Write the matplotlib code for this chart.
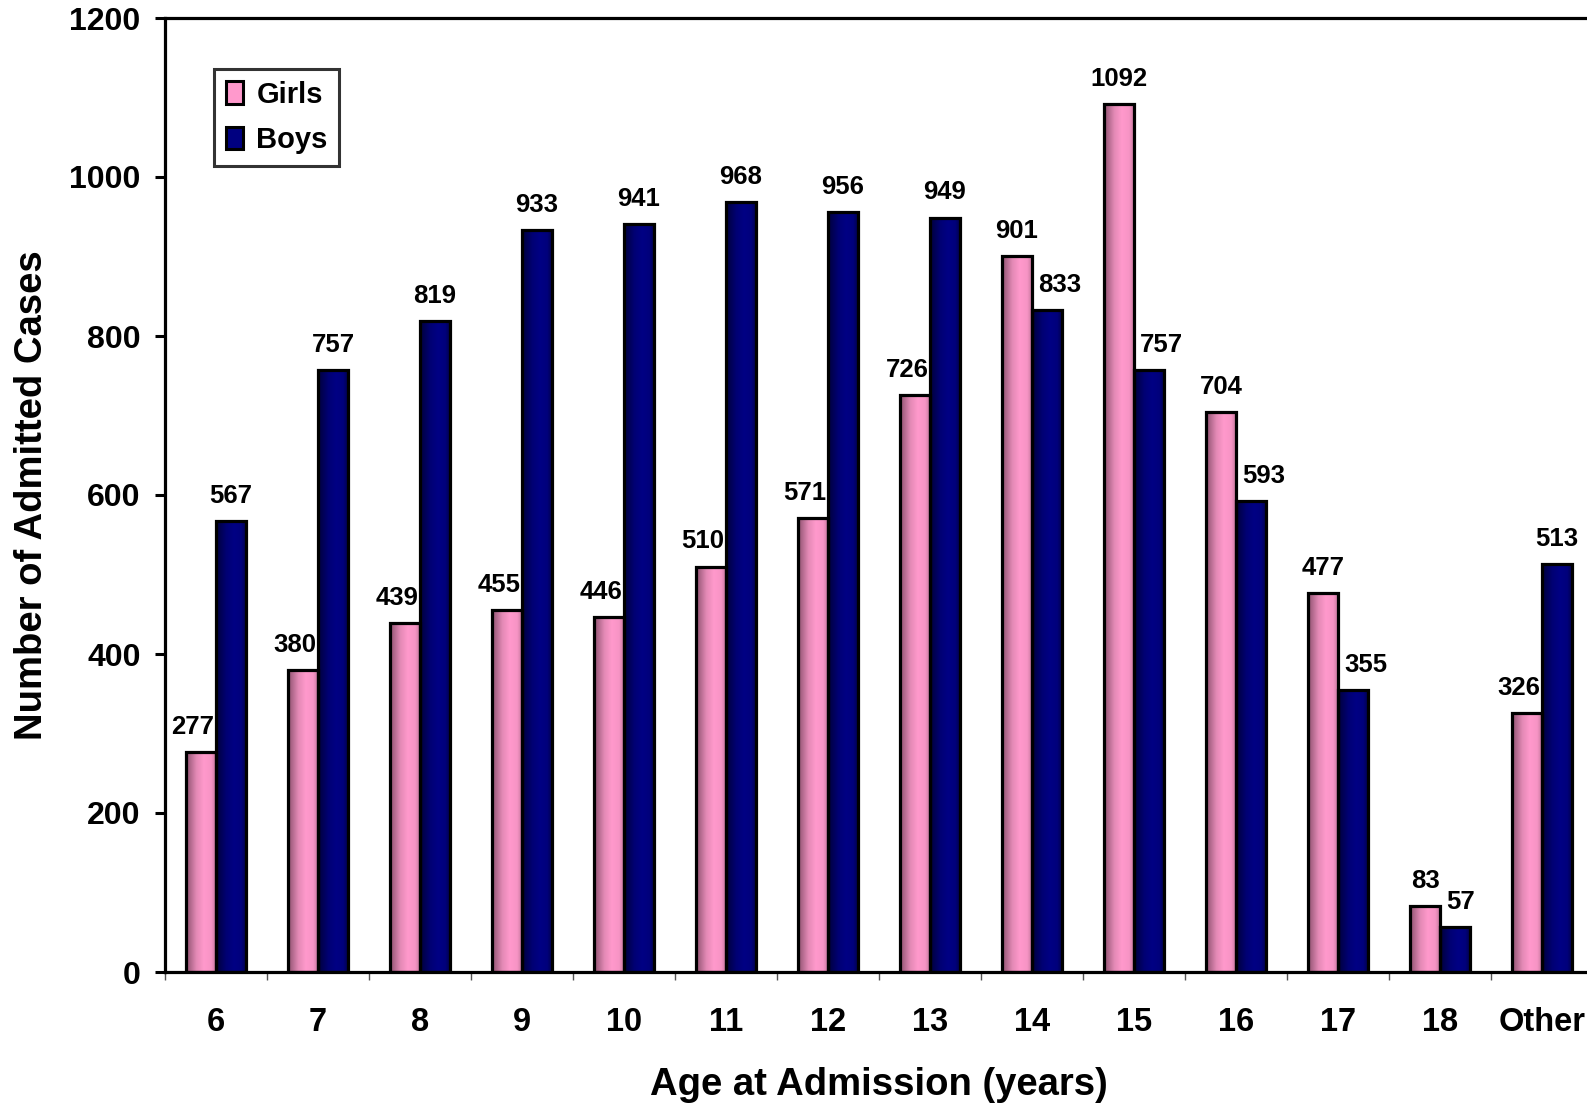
import matplotlib
matplotlib.use("Agg")
import matplotlib.pyplot as plt
import numpy as np
from matplotlib.colors import LinearSegmentedColormap
from matplotlib.patches import Patch

categories = ["6", "7", "8", "9", "10", "11", "12", "13", "14", "15", "16", "17", "18", "Other"]
girls = [277, 380, 439, 455, 446, 510, 571, 726, 901, 1092, 704, 477, 83, 326]
boys = [567, 757, 819, 933, 941, 968, 956, 949, 833, 757, 593, 355, 57, 513]
yticks = [0, 200, 400, 600, 800, 1000, 1200]

plt.rcParams['font.family'] = ['Liberation Sans', 'DejaVu Sans']
plt.rcParams['font.weight'] = 'bold'

fig = plt.figure(figsize=(15.87, 11.04), dpi=100)
ax = fig.add_axes([165/1587, 132/1104, 1428/1587, 954/1104])

pink_cmap = LinearSegmentedColormap.from_list(
    "pinkgrad", [(0.0, "#8f5270"), (0.35, "#e48ab6"), (0.6, "#ff99cc"), (0.85, "#f794c5"), (1.0, "#c87aa0")])
navy_cmap = LinearSegmentedColormap.from_list(
    "navygrad", [(0.0, "#00003c"), (0.35, "#000074"), (0.6, "#000084"), (0.85, "#00007c"), (1.0, "#000050")])

n = len(categories)
x = np.arange(n)
w = 0.294
grad = np.linspace(0, 1, 64).reshape(1, -1)

series = [(girls, boys, -w/2, pink_cmap, "girls"), (boys, girls, w/2, navy_cmap, "boys")]
for vals, other, off, cmap, name in series:
    bars = ax.bar(x + off, vals, width=w, facecolor="none", edgecolor="black",
                  linewidth=2.3, zorder=3)
    for rect, v, o in zip(bars, vals, other):
        x0 = rect.get_x()
        ax.imshow(grad, extent=[x0, x0 + w, 0, v], aspect="auto", cmap=cmap,
                  interpolation="bilinear", zorder=2)
        if name == "girls" and o > v:
            xy, dx, ha = (x0 + w, v), -1, "right"
        elif name == "boys" and o > v:
            xy, dx, ha = (x0, v), 4.5, "left"
        else:
            xy, dx, ha = (x0 + w/2, v), 0, "center"
        ax.annotate(str(v), xy=xy, xytext=(dx, 13), textcoords="offset points",
                    ha=ha, va="baseline", fontsize=18.5, fontweight="bold", zorder=5)

ax.set_xlim(-0.5, n - 0.5)
ax.set_ylim(0, 1200)
ax.set_yticks(yticks)
ax.set_yticklabels([str(t) for t in yticks], fontsize=23, fontweight="bold")
ax.tick_params(axis="y", direction="out", length=7.5, width=2.2, pad=10)

ax.set_xticks(np.arange(n + 1) - 0.5)
ax.set_xticklabels([])
ax.tick_params(axis="x", which="major", direction="out", length=6, width=1, color="#555555")
ax.set_xticks(x, minor=True)
ax.set_xticklabels(categories, minor=True, fontsize=23.5, fontweight="bold")
ax.tick_params(axis="x", which="minor", length=0, pad=25)

for s in ["left", "top", "bottom", "right"]:
    ax.spines[s].set_linewidth(2.3)

ax.set_xlabel("Age at Admission (years)", fontsize=27.5, fontweight="bold", labelpad=21)
ax.set_ylabel("Number of Admitted Cases", fontsize=27.5, fontweight="bold")
ax.yaxis.set_label_coords(-0.0805, 0.5)

handles = [Patch(facecolor="#ff99cc", edgecolor="black", linewidth=2.2, label="Girls"),
           Patch(facecolor="#000080", edgecolor="black", linewidth=2.2, label="Boys")]
leg = ax.legend(handles=handles, loc="upper left", bbox_to_anchor=(0.0343, 0.9465),
                fontsize=21, frameon=True, fancybox=False, borderpad=0.4,
                handlelength=0.6, handleheight=0.8, handletextpad=0.45, labelspacing=0.6,
                borderaxespad=0)
leg.get_frame().set_edgecolor("black")
leg.get_frame().set_linewidth(2.2)
for t in leg.get_texts():
    t.set_fontweight("bold")

fig.savefig("out.png", dpi=100)
